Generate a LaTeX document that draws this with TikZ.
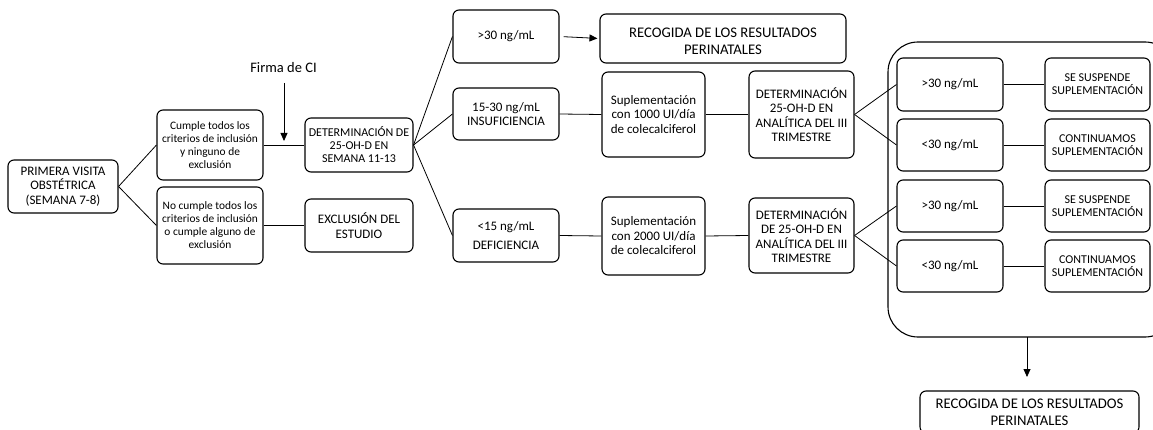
\documentclass[tikz,border=0pt]{standalone}
\usepackage{fontspec}
\setmainfont{Carlito}
\usetikzlibrary{arrows.meta}
\tikzset{
  box/.style={draw, rounded corners=6pt, align=center, inner sep=1pt, line width=1.1pt, font=\fontsize{13}{14.5}\selectfont},
  sbox/.style={box, font=\fontsize{11.4}{13}\selectfont},
  tbox/.style={box, font=\fontsize{12}{13}\selectfont},
  lbox/.style={box, font=\fontsize{14.7}{17}\selectfont},
  conn/.style={line width=0.8pt},
  arr/.style={line width=0.8pt, -{Triangle[length=8pt,width=7pt]}}
}
\begin{document}
\begin{tikzpicture}[x=1pt,y=-1pt]
\useasboundingbox (0,0) rectangle (1153,430);
\clip (0,0) rectangle (1153,430);
\node[box, minimum width=110pt, minimum height=53pt] (prim) at (63,186.5) {PRIMERA VISITA\\OBSTÉTRICA\\(SEMANA 7-8)};
\node[sbox, minimum width=106pt, minimum height=70pt] (cumple) at (210,145) {Cumple todos los\\criterios de inclusión\\y ninguno de\\exclusión};
\node[sbox, minimum width=106pt, minimum height=77pt] (nocumple) at (210,225.5) {No cumple todos los\\criterios de inclusión\\o cumple alguno de\\exclusión};
\node[tbox, minimum width=108pt, minimum height=54pt, inner sep=0pt] (det0) at (359,145) {DETERMINACIÓN DE\\25-OH-D EN\\SEMANA 11-13};
\node[box, minimum width=108pt, minimum height=53pt] (excl) at (359,225.5) {EXCLUSIÓN DEL\\ESTUDIO};
\node[font=\fontsize{14.5}{16}\selectfont] (firma) at (283.5,68) {Firma de CI};
\coordinate (firmastart) at (284,83);
\coordinate (firmatip) at (284,141);
\node[box, minimum width=106pt, minimum height=53pt] (g30) at (506,36.5) {>30 ng/mL};
\node[lbox, minimum width=246pt, minimum height=49pt] (rec1) at (723,38.5) {\rule{0pt}{15pt}RECOGIDA DE LOS RESULTADOS\\PERINATALES};
\node[box, minimum width=106pt, minimum height=52pt] (ins) at (506,114) {15-30 ng/mL\\INSUFICIENCIA};
\node[box, minimum width=103pt, minimum height=85pt] (sup1) at (653.5,114.5) {Suplementación\\con 1000 UI/día\\de colecalciferol};
\node[box, minimum width=105pt, minimum height=87pt] (det1) at (801.5,114.5) {DETERMINACIÓN\\25-OH-D EN\\ANALÍTICA DEL III\\TRIMESTRE};
\node[box, minimum width=106pt, minimum height=53pt] (def) at (506,235.5) {<15 ng/mL\\[5pt]DEFICIENCIA};
\node[box, minimum width=103pt, minimum height=78pt] (sup2) at (653.5,236) {Suplementación\\con 2000 UI/día\\de colecalciferol};
\node[box, minimum width=105pt, minimum height=75pt] (det2) at (801.5,235.5) {DETERMINACIÓN\\DE 25-OH-D EN\\ANALÍTICA DEL III\\TRIMESTRE};
\draw[line width=1.1pt, rounded corners=30pt] (888,42) rectangle (1175,337);
\coordinate (bigbottom) at (1027,337);
\node[box, minimum width=106pt, minimum height=53pt] (a1) at (950,84.5) {>30 ng/mL};
\node[box, minimum width=106pt, minimum height=52pt] (a2) at (950,145) {<30 ng/mL};
\node[box, minimum width=106pt, minimum height=52pt] (b1) at (950,206) {>30 ng/mL};
\node[box, minimum width=106pt, minimum height=52pt] (b2) at (950,266) {<30 ng/mL};
\node[tbox, minimum width=105pt, minimum height=53pt, inner sep=0pt] (ra1) at (1097.5,84.5) {SE SUSPENDE\\SUPLEMENTACIÓN};
\node[tbox, minimum width=105pt, minimum height=52pt, inner sep=0pt] (ra2) at (1097.5,145) {CONTINUAMOS\\SUPLEMENTACIÓN};
\node[tbox, minimum width=105pt, minimum height=52pt, inner sep=0pt] (rb1) at (1097.5,206) {SE SUSPENDE\\SUPLEMENTACIÓN};
\node[tbox, minimum width=105pt, minimum height=52pt, inner sep=0pt] (rb2) at (1097.5,266) {CONTINUAMOS\\SUPLEMENTACIÓN};
\node[lbox, minimum width=219pt, minimum height=42pt] (rec2) at (1029.5,412) {RECOGIDA DE LOS RESULTADOS\\PERINATALES};
\coordinate (rec2top) at (1027,377);
% connectors
\draw[conn] (prim.east) -- (cumple.west);
\draw[conn] (prim.east) -- (nocumple.west);
\draw[conn] (cumple.east) -- (det0.west);
\draw[conn] (nocumple.east) -- (excl.west);
\draw[arr] (firmastart) -- (firmatip);
\draw[conn] (det0.east) -- (g30.west);
\draw[conn] (det0.east) -- (ins.west);
\draw[conn] (det0.east) -- (def.west);
\draw[arr, shorten <=4pt, shorten >=2pt] (g30.east) -- (rec1.west);
\draw[conn] (ins.east) -- (sup1.west);
\draw[conn] (sup1.east) -- (det1.west);
\draw[conn] (def.east) -- (sup2.west);
\draw[conn] (sup2.east) -- (det2.west);
\draw[conn] (det1.east) -- (a1.west);
\draw[conn] (det1.east) -- (a2.west);
\draw[conn] (det2.east) -- (b1.west);
\draw[conn] (det2.east) -- (b2.west);
\draw[conn] (a1.east) -- (ra1.west);
\draw[conn] (a2.east) -- (ra2.west);
\draw[conn] (b1.east) -- (rb1.west);
\draw[conn] (b2.east) -- (rb2.west);
\draw[arr] (bigbottom) -- (rec2top);
\end{tikzpicture}
\end{document}
